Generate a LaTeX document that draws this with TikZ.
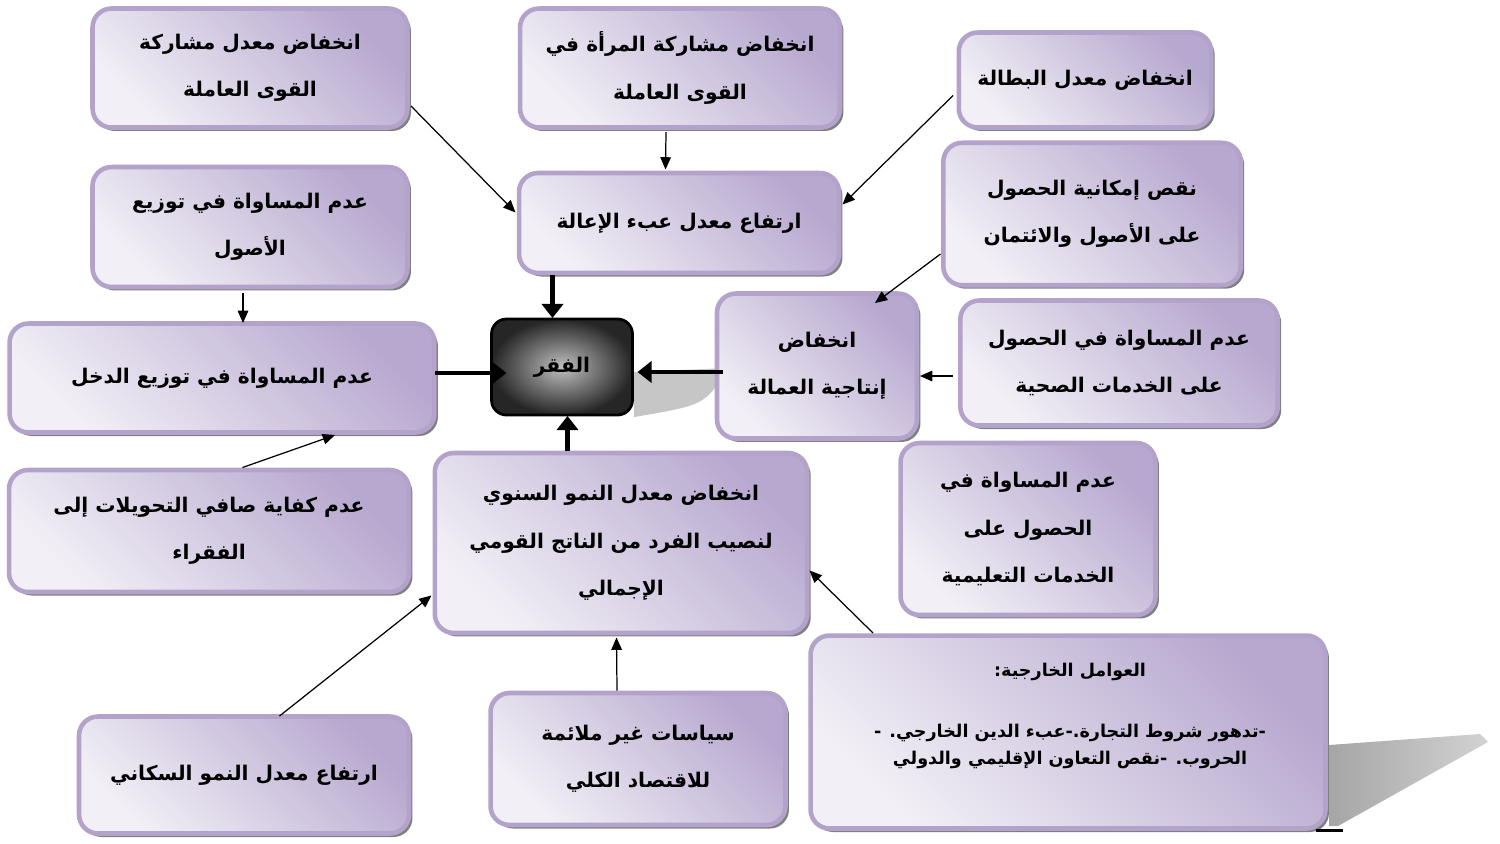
\documentclass[tikz,border=0pt]{standalone}
\usepackage{fontspec}
\newfontfamily\arabicfont[Script=Arabic]{DejaVu Sans}
\TeXXeTstate=1
\usetikzlibrary{shadows,arrows.meta,calc}
\definecolor{frame}{HTML}{B3A3CB}
\definecolor{fillA}{HTML}{B7A8CF}
\definecolor{fillB}{HTML}{F2F0F6}
\newcommand{\RL}[1]{\beginR #1\endR}
\tikzset{
  bx/.style={draw=frame, line width=2.6pt, rounded corners=0.38cm,
    top color=fillA, bottom color=fillB, shading angle=-45,
    drop shadow={shadow xshift=0.07cm, shadow yshift=-0.07cm, fill=black!50, opacity=1},
    align=center, inner sep=0pt,
    font=\arabicfont\bfseries\fontsize{11.5}{27}\selectfont},
  povbox/.style={draw=black, line width=1.6pt, rounded corners=0.3cm,
    shading=radial, inner color=black!25, outer color=black!85,
    align=center, inner sep=0pt,
    font=\arabicfont\bfseries\fontsize{11.5}{27}\selectfont},
  mtext/.style={align=center, inner sep=0pt,
    font=\arabicfont\bfseries\fontsize{10}{15.4}\selectfont},
  arr/.style={-{Triangle[length=7pt,width=6pt]}, line width=0.7pt},
  tarr/.style={-{Triangle[length=8pt,width=12pt]}, line width=2.8pt}
}
\begin{document}
\begin{tikzpicture}[x=0.02cm,y=-0.02cm]
\useasboundingbox (0,0) rectangle (1500,843);

% perspective shadows
\fill[gray!45] (634,372) -- (728,368) .. controls (705,405) .. (634,417) -- cycle;
\shade[left color=gray!70, right color=gray!35] (1329,745) -- (1480,734) -- (1488,742) -- (1338,826) -- (1329,826) -- cycle;

% boxes
\node[bx, minimum width=6.3cm, minimum height=2.38cm] (a1) at (250,68) {\RL{انخفاض معدل مشاركة}\\\RL{القوى العاملة}};
\node[bx, minimum width=6.4cm, minimum height=2.38cm] (a2) at (680,68) {\RL{انخفاض مشاركة المرأة في}\\\RL{القوى العاملة}};
\node[bx, minimum width=5.05cm, minimum height=1.9cm] (a3) at (1085,80) {\RL{انخفاض معدل البطالة}};
\node[bx, minimum width=6.4cm, minimum height=2.0cm] (b) at (679,223) {\RL{ارتفاع معدل عبء الإعالة}};
\node[bx, minimum width=5.95cm, minimum height=2.85cm] (c) at (1092,214) {\RL{نقص إمكانية الحصول}\\\RL{على الأصول والائتمان}};
\node[bx, minimum width=6.3cm, minimum height=2.4cm] (d) at (250,227) {\RL{عدم المساواة في توزيع}\\\RL{الأصول}};
\node[bx, minimum width=8.5cm, minimum height=2.18cm] (e) at (222,378) {\RL{عدم المساواة في توزيع الدخل}};
\node[povbox, minimum width=2.82cm, minimum height=1.92cm] (pov) at (562,367) {\RL{الفقر}};
\node[bx, minimum width=4.0cm, minimum height=2.9cm] (f) at (817,366) {\RL{انخفاض}\\\RL{إنتاجية العمالة}};
\node[bx, minimum width=6.35cm, minimum height=2.5cm] (g) at (1119,363) {\RL{عدم المساواة في الحصول}\\\RL{على الخدمات الصحية}};
\node[bx, minimum width=8.0cm, minimum height=2.44cm] (h) at (209,531) {\RL{عدم كفاية صافي التحويلات إلى}\\\RL{الفقراء}};
\node[bx, minimum width=7.45cm, minimum height=3.6cm] (i) at (621,543) {\RL{انخفاض معدل النمو السنوي}\\\RL{لنصيب الفرد من الناتج القومي}\\\RL{الإجمالي}};
\node[bx, minimum width=5.1cm, minimum height=3.44cm] (j) at (1028,529) {\RL{عدم المساواة في}\\\RL{الحصول على}\\\RL{الخدمات التعليمية}};
\node[bx, minimum width=6.6cm, minimum height=2.34cm] (k) at (244,775) {\RL{ارتفاع معدل النمو السكاني}};
\node[bx, minimum width=5.9cm, minimum height=2.64cm] (l) at (638,759) {\RL{سياسات غير ملائمة}\\\RL{للاقتصاد الكلي}};
\node[bx, minimum width=10.3cm, minimum height=3.86cm] (m) at (1068,732) {};
\node[mtext] (mt) at (1070,716) {\RL{العوامل الخارجية:}\\[0.68cm]\RL{-تدهور شروط التجارة.-عبء الدين الخارجي. -}\\\RL{الحروب. -نقص التعاون الإقليمي والدولي}};
\draw[line width=1.5pt] ($(m.south east)+(-12,0)$) -- ($(m.south east)+(15,0)$);

% connector end points
\coordinate (pb) at ($(pov)+(-9.5,-49)$);
\coordinate (pi) at ($(pov)+(5.5,49)$);

% connectors
\draw[arr] ($(a1)+(161,38)$) -- ($(b)+(-163.5,-10.5)$);
\draw[arr] ($(a2)+(-14,64)$) -- ($(b)+(-13.5,-53.5)$);
\draw[arr] ($(a3)+(-132,15.5)$) -- ($(b)+(163.5,-18.5)$);
\draw[tarr] (b.south -| pb) -- (pb);
\draw[arr] ($(c)+(-151.5,40)$) -- ($(f)+(58,-63)$);
\draw[arr] ($(d)+(-7,65.5)$) -- ($(e)+(21,-55)$);
\draw[tarr] ($(e)+(213,-5)$) -- ($(pov)+(-55.5,6)$);
\draw[tarr] ($(f)+(-94,6)$) -- ($(pov)+(75.5,5)$);
\draw[arr] ($(g)+(-166.5,13)$) -- ($(f)+(103,10)$);
\draw[arr] ($(h)+(33.5,-63.5)$) -- ($(e)+(113,57)$);
\draw[tarr] (i.north -| pi) -- (pi);
\draw[arr] ($(k)+(35.5,-59)$) -- ($(i)+(-189.5,52.5)$);
\draw[arr] ($(l)+(-21,-68.5)$) -- ($(i)+(-4.5,94.5)$);
\draw[arr] ($(m)+(-195,-99)$) -- ($(i)+(188.5,27.5)$);
\end{tikzpicture}
\end{document}
